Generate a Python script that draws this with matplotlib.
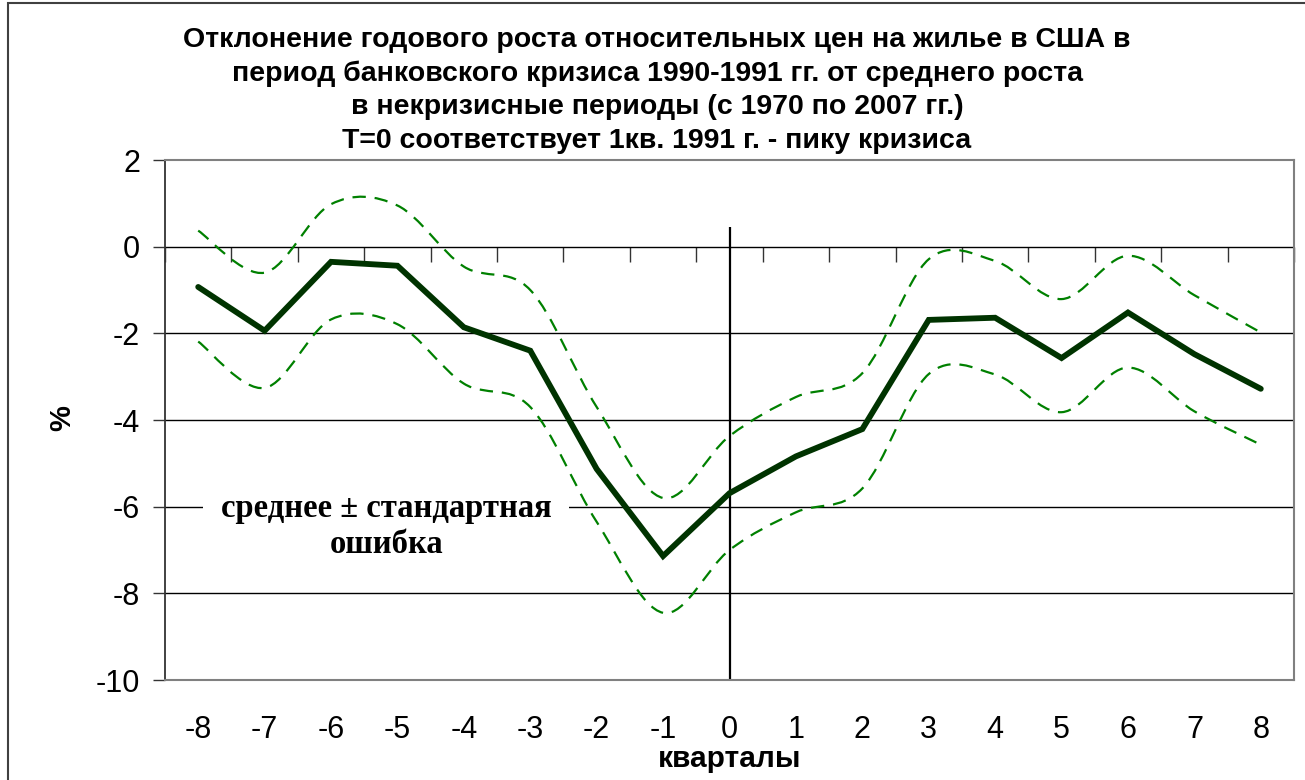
import numpy as np
import matplotlib
matplotlib.use("Agg")
import matplotlib.pyplot as plt
from matplotlib.path import Path
from matplotlib.patches import PathPatch, Rectangle

# data
quarters = list(range(-8, 9))
mean = [-0.93, -1.94, -0.35, -0.44, -1.86, -2.40, -5.13, -7.14, -5.69,
        -4.84, -4.21, -1.69, -1.64, -2.57, -1.52, -2.48, -3.28]
upper = [0.37, -0.60, 0.98, 0.95, -0.46, -1.00, -3.70, -5.80, -4.37,
         -3.47, -2.92, -0.29, -0.33, -1.21, -0.21, -1.12, -1.98]
lower = [-2.19, -3.26, -1.68, -1.79, -3.16, -3.70, -6.35, -8.45, -7.00,
         -6.13, -5.58, -2.94, -2.95, -3.82, -2.79, -3.80, -4.57]

title_lines = [
    "Отклонение годового роста относительных цен на жилье в США в",
    "период банковского кризиса 1990-1991 гг. от среднего роста",
    "в некризисные периоды (с 1970 по 2007 гг.)",
    "T=0 соответствует 1кв. 1991 г. - пику кризиса",
]
yticks = [2, 0, -2, -4, -6, -8, -10]
note = "среднее ± стандартная\nошибка"


def smooth_path(xs, ys):
    # excel-like smoothed line (catmull-rom as cubic bezier)
    p = np.column_stack([xs, ys]).astype(float)
    ext = np.vstack([p[0], p, p[-1]])
    verts = [p[0]]
    codes = [Path.MOVETO]
    for i in range(len(p) - 1):
        p0, p1, p2, p3 = ext[i], ext[i + 1], ext[i + 2], ext[i + 3]
        c1 = p1 + (p2 - p0) / 6.0
        c2 = p2 - (p3 - p1) / 6.0
        verts += [c1, c2, p2]
        codes += [Path.CURVE4] * 3
    return Path(verts, codes)


sans = ["Liberation Sans", "DejaVu Sans"]
W, H = 1305, 780
fig = plt.figure(figsize=(W / 100, H / 100), dpi=100)
ax = fig.add_axes([165 / W, 1 - 680 / H, (1294 - 165) / W, (680 - 160) / H])

ax.set_xlim(-8.5, 8.5)
ax.set_ylim(-10, 2)

# horizontal grid
for v in yticks[1:-1]:
    ax.axhline(v, color="black", lw=1.0, zorder=1)

# vertical line at T=0
ax.vlines(0, -10, 0.45, color="black", lw=1.6, zorder=2)

green = "#008000"
for band in (upper, lower):
    ax.add_patch(PathPatch(smooth_path(quarters, band), fill=False,
                           edgecolor=green, lw=1.6, linestyle=(0, (6, 4)),
                           zorder=3))
ax.plot(quarters, mean, color="#003300", lw=4.2, solid_joinstyle="miter",
        solid_capstyle="round", zorder=4)

# spines
for s in ("top", "right", "bottom"):
    ax.spines[s].set_color("#808080")
    ax.spines[s].set_linewidth(1.5)
ax.spines["left"].set_color("#333333")
ax.spines["left"].set_linewidth(1.3)

ax.set_yticks(yticks)
ax.set_yticklabels([str(v) for v in yticks])
ax.tick_params(axis="y", direction="out", length=9, width=1, color="#333333",
               labelsize=22, pad=9)
ax.set_xticks(quarters)
ax.set_xticklabels([str(q) for q in quarters])
ax.tick_params(axis="x", length=0, labelsize=22, pad=25)

# category axis crossing at y=0 with ticks between categories
sec = ax.secondary_xaxis(10 / 12)
sec.set_xticks(np.arange(-8.5, 9.0, 1.0))
sec.tick_params(direction="out", length=11, width=1, color="#333333",
                labelbottom=False, labeltop=False, bottom=True, top=False)
sec.spines["bottom"].set_color("black")
sec.spines["bottom"].set_linewidth(1.0)
sec.spines["top"].set_visible(False)

for lbl in ax.get_xticklabels() + ax.get_yticklabels():
    lbl.set_family(sans)

ax.text(-5.17, -6.45, note, ha="center", va="center", fontsize=23.5,
        fontweight="bold", family=["Liberation Serif", "DejaVu Serif"],
        linespacing=1.2, zorder=5,
        bbox=dict(facecolor="white", edgecolor="none", pad=13))

ax.set_xlabel("кварталы", fontsize=21.5, fontweight="bold", family=sans,
              labelpad=0)
fig.text(62 / W, 1 - 418 / H, "%", rotation=90, ha="center", va="center",
         fontsize=21, fontweight="bold", family=sans)

for i, line in enumerate(title_lines):
    fig.text(657 / W, 1 - (40 + 33.7 * i) / H, line, ha="center", va="center",
             fontsize=20.5, fontweight="bold", family=sans)

# chart area border (cut at right and bottom)
fig.add_artist(Rectangle((8 / W, -0.1), 1.2, 1.1 - 3 / H, fill=False,
                         edgecolor="#404040", lw=1.5,
                         transform=fig.transFigure))

fig.savefig("out.png", dpi=100)
